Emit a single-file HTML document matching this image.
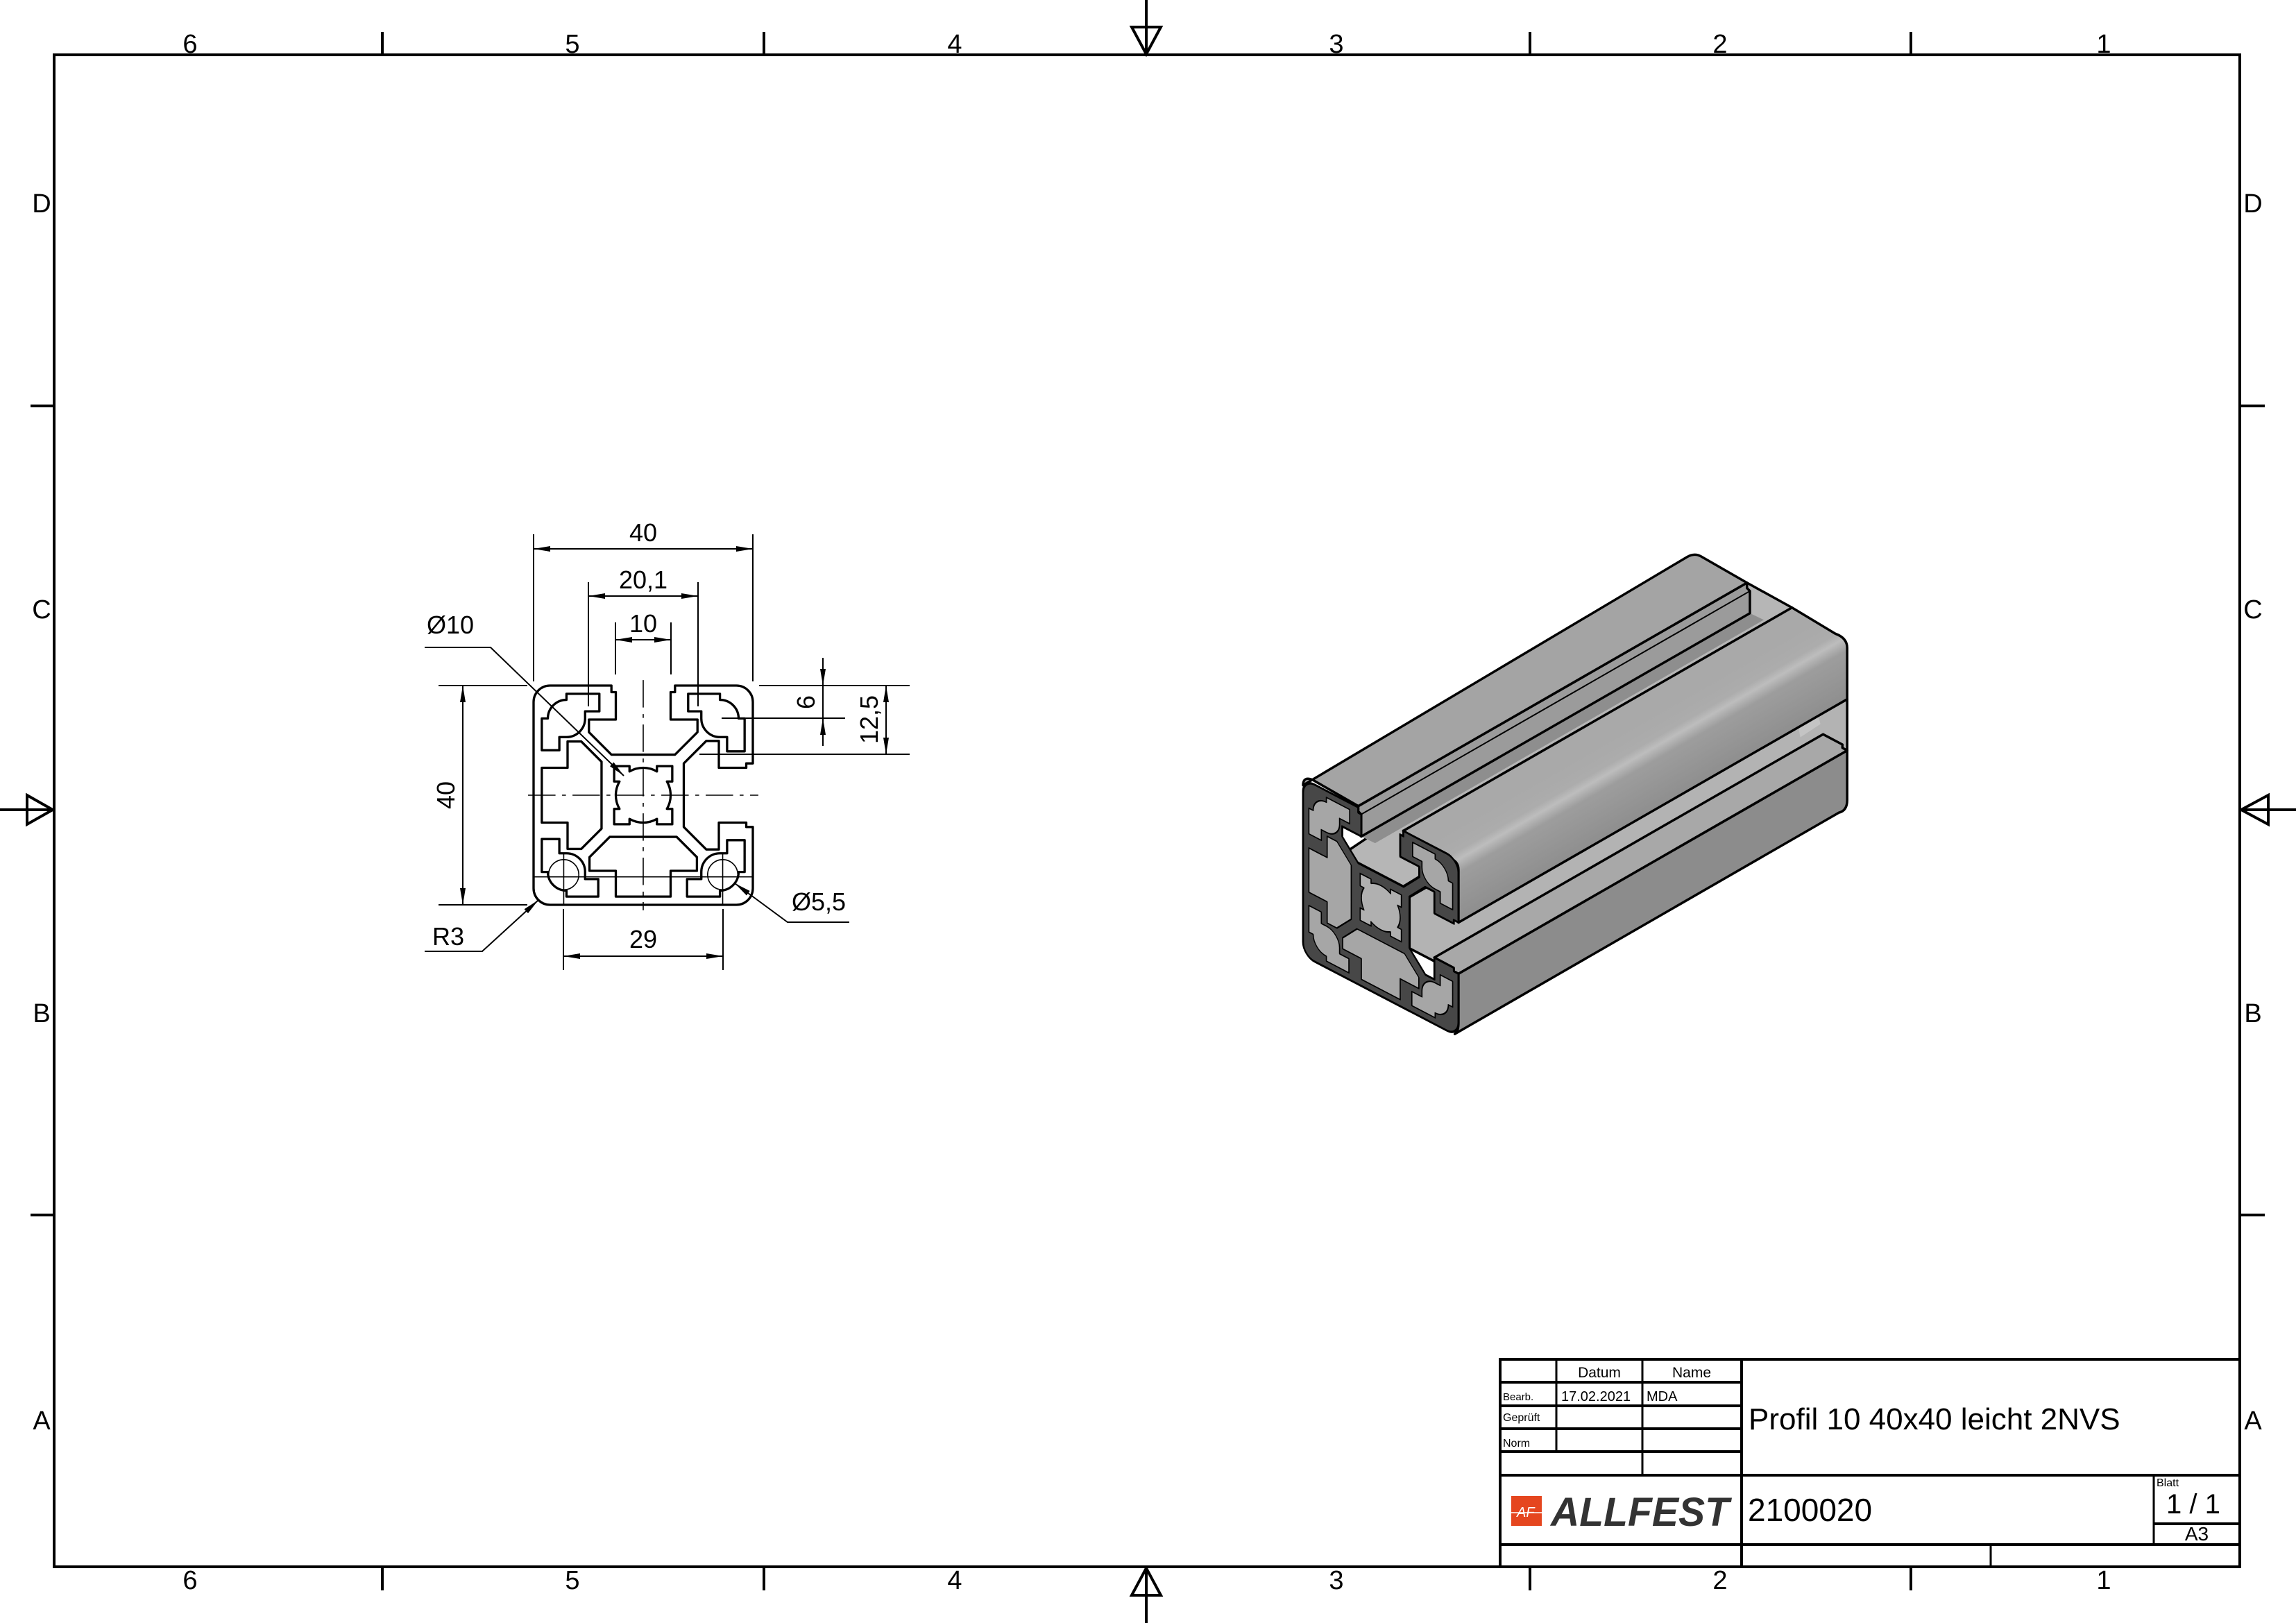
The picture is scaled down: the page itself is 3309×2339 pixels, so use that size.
<!DOCTYPE html>
<html><head><meta charset="utf-8"><style>
html,body{margin:0;padding:0;background:#fff}
svg{display:block}
text{font-family:"Liberation Sans Narrow","Liberation Sans",sans-serif;fill:#000}
.ns{vector-effect:non-scaling-stroke}
</style></head><body>
<svg width="3309" height="2339" viewBox="0 0 3309 2339" xmlns="http://www.w3.org/2000/svg">
<defs>
<marker id="ar" viewBox="0 -4 24 8" refX="24" refY="0" markerUnits="userSpaceOnUse" markerWidth="24" markerHeight="8" orient="auto-start-reverse"><path d="M0,-4 L24,0 L0,4 z" fill="#000"/></marker>
<linearGradient id="lipg" gradientUnits="userSpaceOnUse" x1="406" y1="907" x2="556" y2="1144">
<stop offset="0" stop-color="#a9a9a9"/><stop offset="0.22" stop-color="#acacac"/><stop offset="0.3" stop-color="#bdbdbd"/><stop offset="0.42" stop-color="#9d9d9d"/><stop offset="1" stop-color="#8a8a8a"/></linearGradient>
<path id="outer" d="M5.8,-20 H17 A3,3 0 0 1 20,-17 V-5.8 L18.8,-5.8 L18.8,-5 L13.8,-5 L13.8,-9.9 L11.5,-9.9 L7.4,-5.8 L7.4,5.8 L11.5,9.9 L13.8,9.9 L13.8,5 L18.8,5 L18.8,5.8 L20,5.8 V17 A3,3 0 0 1 17,20 H-17 A3,3 0 0 1 -20,17 V-17 A3,3 0 0 1 -17,-20 H-5.8 L-5.8,-18.8 L-5,-18.8 L-5,-13.8 L-9.9,-13.8 L-9.9,-11.5 L-5.8,-7.4 L5.8,-7.4 L9.9,-11.5 L9.9,-13.8 L5,-13.8 L5,-18.8 L5.8,-18.8 Z"/>
<path id="lcav" d="M-13.8,-9.8 L-11.3,-9.8 L-7.6,-6.1 L-7.6,6.1 L-11.3,9.8 L-13.8,9.8 L-13.8,5 L-18.5,5 L-18.5,-5 L-13.8,-5 Z"/>
<path id="ccav" d="M-14,-18.5 H-8 V-15.3 H-10.6 V-14 A3.4,3.4 0 0 1 -14,-10.6 H-15.3 V-8.2 H-18.5 V-14 H-17.4 A3.4,3.4 0 0 1 -14,-17.4 Z"/>
<path id="hole" d="M-5.3,-5.3 H-2.5 V-4.33 A5,5 0 0 1 2.5,-4.33 V-5.3 H5.3 V-2.5 H4.33 A5,5 0 0 1 4.33,2.5 H5.3 V5.3 H2.5 V4.33 A5,5 0 0 1 -2.5,4.33 V5.3 H-5.3 V2.5 H-4.33 A5,5 0 0 1 -4.33,-2.5 H-5.3 Z"/>
</defs>

<!-- frame -->
<rect x="78" y="79" width="3150" height="2179" fill="none" stroke="#000" stroke-width="4"/>
<g stroke="#000" stroke-width="4">
<line x1="551" y1="46" x2="551" y2="79"/><line x1="1101" y1="46" x2="1101" y2="79"/><line x1="2205" y1="46" x2="2205" y2="79"/><line x1="2754" y1="46" x2="2754" y2="79"/>
<line x1="551" y1="2258" x2="551" y2="2292"/><line x1="1101" y1="2258" x2="1101" y2="2292"/><line x1="2205" y1="2258" x2="2205" y2="2292"/><line x1="2754" y1="2258" x2="2754" y2="2292"/>
<line x1="44" y1="585" x2="78" y2="585"/><line x1="44" y1="1751" x2="78" y2="1751"/>
<line x1="3228" y1="585" x2="3264" y2="585"/><line x1="3228" y1="1751" x2="3264" y2="1751"/>
<line x1="1652" y1="0" x2="1652" y2="79"/><line x1="1652" y1="2258" x2="1652" y2="2339"/>
<line x1="0" y1="1167" x2="78" y2="1167"/><line x1="3228" y1="1167" x2="3309" y2="1167"/>
</g>
<g fill="none" stroke="#000" stroke-width="4" stroke-linejoin="miter">
<path d="M1631,39 L1673,39 L1652,78 Z"/><path d="M1652,2260 L1631,2299 L1673,2299 Z"/>
<path d="M39,1146 L39,1188 L76,1167 Z"/><path d="M3230,1167 L3269,1146 L3269,1188 Z"/>
</g>
<g font-size="38" text-anchor="middle">
<text x="274" y="76">6</text><text x="825" y="76">5</text><text x="1376" y="76">4</text><text x="1926" y="76">3</text><text x="2479" y="76">2</text><text x="3032" y="76">1</text>
<text x="274" y="2290">6</text><text x="825" y="2290">5</text><text x="1376" y="2290">4</text><text x="1926" y="2290">3</text><text x="2479" y="2290">2</text><text x="3032" y="2290">1</text>
<text x="60" y="306">D</text><text x="60" y="891">C</text><text x="60" y="1473">B</text><text x="60" y="2060">A</text>
<text x="3247" y="306">D</text><text x="3247" y="891">C</text><text x="3247" y="1473">B</text><text x="3247" y="2060">A</text>
</g>

<!-- 2D profile -->
<g transform="translate(927,1146) scale(7.9)">
<g fill="none" stroke="#000" stroke-width="0.42" stroke-linejoin="round">
<use href="#outer" fill="#fff"/>
<use href="#lcav"/>
<use href="#lcav" transform="rotate(-90)"/>
<use href="#ccav"/>
<use href="#ccav" transform="rotate(90)"/>
<use href="#ccav" transform="rotate(180)"/>
<use href="#ccav" transform="rotate(270)"/>
<use href="#hole"/>
</g>
<g fill="none" stroke="#000" stroke-width="0.2">
<circle cx="-14.5" cy="14.5" r="2.75"/><circle cx="14.5" cy="14.5" r="2.75"/>
<line x1="-20" y1="14.9" x2="20" y2="14.9"/>
<line x1="-14.5" y1="10.5" x2="-14.5" y2="20"/><line x1="14.5" y1="10.5" x2="14.5" y2="20"/>
<line x1="-21" y1="0" x2="21" y2="0" stroke-dasharray="5 1.2 0.7 1.2"/>
<line x1="0" y1="-21" x2="0" y2="21" stroke-dasharray="5 1.2 0.7 1.2"/>
</g>
</g>
<!-- dimensions -->
<g stroke="#000" stroke-width="2" fill="none">
<line x1="769" y1="770" x2="769" y2="982"/><line x1="1085" y1="770" x2="1085" y2="982"/>
<line x1="769" y1="791" x2="1085" y2="791" marker-start="url(#ar)" marker-end="url(#ar)"/>
<line x1="848" y1="839" x2="848" y2="1018"/><line x1="1006" y1="839" x2="1006" y2="1018"/>
<line x1="848" y1="859" x2="1006" y2="859" marker-start="url(#ar)" marker-end="url(#ar)"/>
<line x1="887" y1="897" x2="887" y2="972"/><line x1="967" y1="897" x2="967" y2="972"/>
<line x1="887" y1="922" x2="967" y2="922" marker-start="url(#ar)" marker-end="url(#ar)"/>
<polyline points="612,933 707,933 899,1118" marker-end="url(#ar)"/>
<line x1="632" y1="988" x2="760" y2="988"/><line x1="632" y1="1304" x2="760" y2="1304"/>
<line x1="667" y1="988" x2="667" y2="1304" marker-start="url(#ar)" marker-end="url(#ar)"/>
<line x1="1094" y1="988" x2="1311" y2="988"/><line x1="1040" y1="1035" x2="1218" y2="1035"/><line x1="1008" y1="1087" x2="1311" y2="1087"/>
<line x1="1186" y1="948" x2="1186" y2="988" marker-end="url(#ar)"/><line x1="1186" y1="1075" x2="1186" y2="1035" marker-end="url(#ar)"/><line x1="1186" y1="988" x2="1186" y2="1035"/>
<line x1="1277" y1="988" x2="1277" y2="1087" marker-start="url(#ar)" marker-end="url(#ar)"/>
<polyline points="612,1371 695,1371 776,1297" marker-end="url(#ar)"/>
<polyline points="1224,1329 1135,1329 1059,1273" marker-end="url(#ar)"/>
<line x1="812" y1="1310" x2="812" y2="1398"/><line x1="1042" y1="1310" x2="1042" y2="1398"/>
<line x1="812" y1="1378" x2="1042" y2="1378" marker-start="url(#ar)" marker-end="url(#ar)"/>
</g>
<g font-size="36" text-anchor="middle">
<text x="927" y="780">40</text>
<text x="927" y="848">20,1</text>
<text x="927" y="911">10</text>
<text x="649" y="913">Ø10</text>
<text x="927" y="1366">29</text>
<text x="646" y="1362">R3</text>
<text x="1180" y="1312">Ø5,5</text>
<text transform="translate(655,1146) rotate(-90)">40</text>
<text transform="translate(1174,1012) rotate(-90)">6</text>
<text transform="translate(1265,1037) rotate(-90)">12,5</text>
</g>

<!-- 3D view -->
<g transform="matrix(0.527,0,0,0.4767,1856.9,776.5)" stroke="#000" stroke-width="3.5" stroke-linejoin="round">
<polygon class="ns" points="140,960 191,980 314,1051 1377,376 1377,208 1254,133" fill="#b6b6b6"/>
<polygon points="199,900 1262,225 1300,245 237,920" fill="#8e8e8e" stroke="none"/>
<polygon class="ns" points="331,1083 1394,408 1528,485 1528,640 465,1315 331,1238" fill="#b3b3b3"/>
<polygon points="1370,440 1420,420 1455,560 1400,600" fill="#c4c4c4" stroke="none"/>
<polygon class="ns" points="191,808 1254,133 1254,149 1262,158 1262,225 199,900 199,833 191,824" fill="#9b9b9b"/>
<line class="ns" x1="199" y1="833" x2="1262" y2="158" stroke-width="2"/>
<path class="ns" d="M40,745 Q40,718 65,728 L191,808 L1254,133 L1128,53 Q1110,42 1090,55 Z" fill="#a4a4a4"/>
<path class="ns" d="M314,883 L1377,208 L1496,287 Q1528,300 1528,330 L1528,485 L465,1160 L465,1000 Q465,972 433,962 Z" fill="url(#lipg)"/>
<polygon class="ns" points="399,1266 1462,591 1515,622 1515,632 1528,640 465,1315 452,1307 452,1297" fill="#a8a8a8"/>
<path class="ns" d="M465,1315 L1528,640 L1528,790 Q1528,822 1505,828 L455,1497 Q465,1490 465,1463 Z" fill="#8c8c8c"/>
<g transform="matrix(10.625,6.125,0,13.375,252.5,1115)">
<use href="#outer" fill="#474747" stroke-width="0.5"/>
<g fill="#a6a6a6" stroke-width="0.3">
<use href="#lcav"/>
<use href="#lcav" transform="rotate(-90)"/>
<use href="#ccav"/>
<use href="#ccav" transform="rotate(90)"/>
<use href="#ccav" transform="rotate(180)"/>
<use href="#ccav" transform="rotate(270)"/>
<use href="#hole" fill="#b0b0b0"/>
</g>
</g>
</g>

<!-- title block -->
<g stroke="#000" fill="none">
<rect x="2162" y="1959" width="1066" height="299" stroke-width="4"/>
<line x1="2162" y1="1992" x2="2510" y2="1992" stroke-width="4"/>
<line x1="2162" y1="2026" x2="2510" y2="2026" stroke-width="4"/>
<line x1="2162" y1="2059" x2="2510" y2="2059" stroke-width="4"/>
<line x1="2162" y1="2092" x2="2510" y2="2092" stroke-width="4"/>
<line x1="2162" y1="2126" x2="3228" y2="2126" stroke-width="4"/>
<line x1="2162" y1="2226" x2="3228" y2="2226" stroke-width="4"/>
<line x1="2243" y1="1959" x2="2243" y2="2092" stroke-width="3"/>
<line x1="2367" y1="1959" x2="2367" y2="2126" stroke-width="3"/>
<line x1="2510" y1="1959" x2="2510" y2="2258" stroke-width="4"/>
<line x1="3104" y1="2126" x2="3104" y2="2226" stroke-width="3"/>
<line x1="3104" y1="2196" x2="3228" y2="2196" stroke-width="4"/>
<line x1="2869" y1="2226" x2="2869" y2="2258" stroke-width="3"/>
</g>
<g>
<text x="2305" y="1985" font-size="21" text-anchor="middle">Datum</text>
<text x="2438" y="1985" font-size="21" text-anchor="middle">Name</text>
<text x="2166" y="2018" font-size="15">Bearb.</text>
<text x="2250" y="2019" font-size="20">17.02.2021</text>
<text x="2373" y="2019" font-size="20">MDA</text>
<text x="2166" y="2048" font-size="16">Geprüft</text>
<text x="2166" y="2085" font-size="16">Norm</text>
<text x="2520" y="2060" font-size="44">Profil 10 40x40 leicht 2NVS</text>
<text x="2519" y="2192" font-size="46">2100020</text>
<text x="3108" y="2142" font-size="16">Blatt</text>
<text x="3122" y="2181" font-size="40">1 / 1</text>
<text x="3166" y="2220" font-size="28" text-anchor="middle">A3</text>
<rect x="2178" y="2156" width="44" height="43" fill="#e5461f"/>
<line x1="2178" y1="2180" x2="2222" y2="2180" stroke="#fff" stroke-width="1.5"/>
<text x="2186" y="2186" font-size="20" font-style="italic" style="fill:#fff">AF</text>
<text x="2235" y="2199" font-size="58" font-weight="bold" font-style="italic" textLength="257" lengthAdjust="spacingAndGlyphs" style="font-family:'Liberation Sans',sans-serif;fill:#333">ALLFEST</text>
</g>
</svg>
</body></html>
